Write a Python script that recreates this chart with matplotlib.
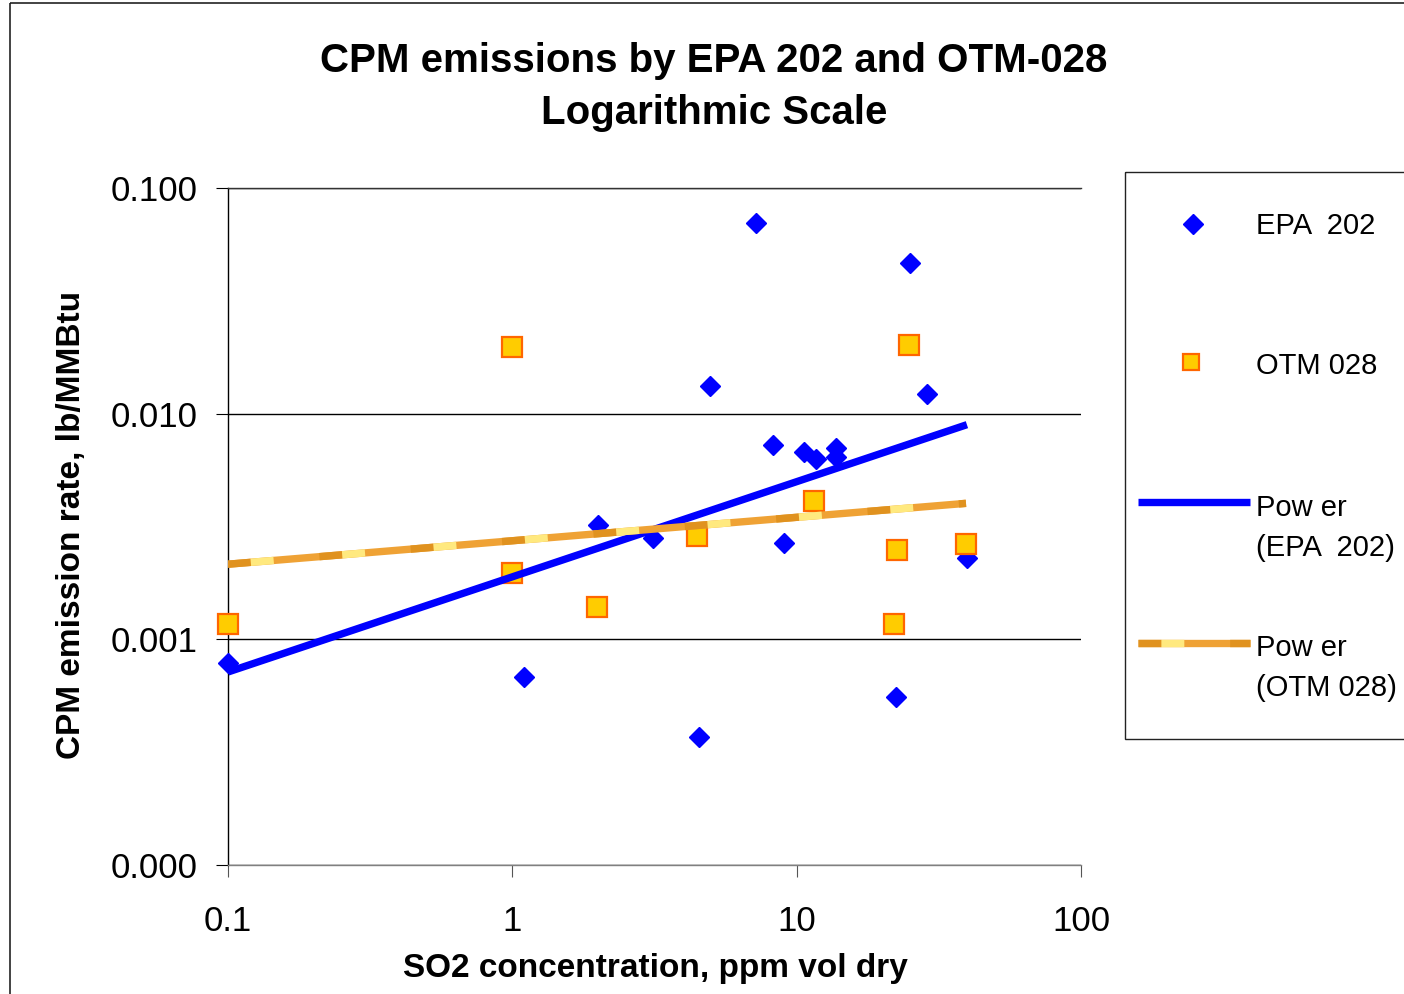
import numpy as np
import matplotlib
matplotlib.use('Agg')
import matplotlib.pyplot as plt
from matplotlib.ticker import NullLocator
from matplotlib.patches import Rectangle

plt.rcParams['font.family'] = ['Liberation Sans', 'DejaVu Sans']
plt.rcParams['lines.scale_dashes'] = False

# ---------------- data ----------------
epa_x = [7.2, 25.1, 4.96, 28.8, 8.26, 10.6, 11.7, 13.8, 13.8, 2.0, 3.13,
         9.03, 39.7, 0.1, 1.10, 4.54, 22.4]
epa_y = [0.070, 0.0466, 0.0133, 0.0122, 0.00727, 0.00676, 0.0063, 0.00705,
         0.00643, 0.00321, 0.00281, 0.00267, 0.0023, 0.000786, 0.00068,
         0.00037, 0.000556]
otm_x = [0.1, 1.0, 1.0, 1.99, 4.47, 11.5, 22.0, 22.5, 24.8, 39.4]
otm_y = [0.00117, 0.0198, 0.00197, 0.00139, 0.00287, 0.0041, 0.00117,
         0.00249, 0.0201, 0.00265]

x_ticks = [0.1, 1, 10, 100]
x_tick_labels = ['0.1', '1', '10', '100']
y_ticks = [0.0001, 0.001, 0.01, 0.1]
y_tick_labels = ['0.000', '0.001', '0.010', '0.100']

title_lines = ['CPM emissions by EPA 202 and OTM-028', 'Logarithmic Scale']
x_label = 'SO2 concentration, ppm vol dry'
y_label = 'CPM emission rate, lb/MMBtu'
legend_labels = ['EPA  202', 'OTM 028', ['Pow er', '(EPA  202)'],
                 ['Pow er', '(OTM 028)']]

# ---------------- styles ----------------
BLUE = '#0000FF'
SQ_FACE = '#FFCC00'
SQ_EDGE = '#FF6600'
DARK = '#E0921F'
ORANGE = '#EFA235'
YELLOW = '#FFE97F'
SEG = 16.5  # dash segment length (pt)

W, H = 1404, 994
fig = plt.figure(figsize=(W / 100, H / 100), dpi=100)


def fx(px):
    return px / W


def fy(py):
    return 1 - py / H


def power_fit(x, y):
    b, la = np.polyfit(np.log10(x), np.log10(y), 1)
    xs = np.geomspace(min(x), max(x), 300)
    return xs, 10 ** la * xs ** b


def otm_line(axis, xs, ys, lw, **kw):
    axis.plot(xs, ys, color=ORANGE, lw=lw, solid_capstyle='butt', **kw)
    axis.plot(xs, ys, color=DARK, lw=lw, ls=(0, (SEG, 3 * SEG)),
              dash_capstyle='butt', **kw)
    axis.plot(xs, ys, color=YELLOW, lw=lw, ls=(3 * SEG, (SEG, 3 * SEG)),
              dash_capstyle='butt', **kw)


# overlay (pixel coordinates) for chart frame and legend
ov = fig.add_axes([0, 0, 1, 1], zorder=0)
ov.set_xlim(0, W)
ov.set_ylim(H, 0)
ov.axis('off')
ov.add_patch(Rectangle((10, 3), W + 20, H + 20, fill=False,
                       edgecolor='#222222', lw=1.2))

# main axes
ax = fig.add_axes([fx(228), fy(865), (1081 - 228) / W, (865 - 188) / H],
                  zorder=1)
ax.set_xscale('log')
ax.set_yscale('log')
ax.set_xlim(0.1, 100)
ax.set_ylim(0.0001, 0.1)

ax.plot(epa_x, epa_y, ls='none', marker='D', ms=10.5, color=BLUE,
        mec=BLUE, zorder=3, clip_on=False)
ax.plot(otm_x, otm_y, ls='none', marker='s', ms=14, mfc=SQ_FACE,
        mec=SQ_EDGE, mew=1.6, zorder=3, clip_on=False)

xe, ye = power_fit(epa_x, epa_y)
ax.plot(xe, ye, color=BLUE, lw=5.3, solid_capstyle='butt', zorder=4)
xo, yo = power_fit(otm_x, otm_y)
otm_line(ax, xo, yo, 5.3, zorder=4)

ax.set_xticks(x_ticks)
ax.set_xticklabels(x_tick_labels)
ax.set_yticks(y_ticks)
ax.set_yticklabels(y_tick_labels)
ax.xaxis.set_minor_locator(NullLocator())
ax.yaxis.set_minor_locator(NullLocator())
ax.tick_params(axis='y', direction='out', length=8.6, width=0.8,
               color='black', labelsize=25, pad=13)
ax.tick_params(axis='x', direction='out', length=8.6, width=0.8,
               color='#555555', labelsize=25, pad=20)
ax.yaxis.grid(True, color='black', lw=1.0)
ax.set_axisbelow(True)
ax.spines['right'].set_visible(False)
ax.spines['top'].set_color('#333333')
ax.spines['left'].set_color('black')
ax.spines['bottom'].set_color('#808080')
for s in ax.spines.values():
    s.set_linewidth(1.0)

# titles and labels
fig.text(fx(714), fy(61), title_lines[0], ha='center', va='center',
         fontsize=29, fontweight='bold')
fig.text(fx(714), fy(113), title_lines[1], ha='center', va='center',
         fontsize=29, fontweight='bold')
fig.text(fx(655), fy(969), x_label, ha='center', va='center',
         fontsize=24, fontweight='bold')
fig.text(fx(72), fy(525), y_label, ha='center', va='center',
         fontsize=24, fontweight='bold', rotation=90)

# legend
ov.add_patch(Rectangle((1125, 172), 400, 739 - 172, fill=False,
                       edgecolor='#222222', lw=1.0))
ov.plot([1193], [224], marker='D', ms=10, color=BLUE, ls='none')
ov.plot([1191], [362], marker='s', ms=11, mfc=SQ_FACE, mec=SQ_EDGE,
        mew=1.6, ls='none')
ov.plot([1138, 1250], [502, 502], color=BLUE, lw=5.3, solid_capstyle='butt')
otm_line(ov, [1138, 1250], [643, 643], 5.3)
tx = 1256
ov.text(tx, 226, legend_labels[0], va='center', ha='left', fontsize=21)
ov.text(tx, 366, legend_labels[1], va='center', ha='left', fontsize=21)
ov.text(tx, 508, legend_labels[2][0], va='center', ha='left', fontsize=21)
ov.text(tx, 548, legend_labels[2][1], va='center', ha='left', fontsize=21)
ov.text(tx, 648, legend_labels[3][0], va='center', ha='left', fontsize=21)
ov.text(tx, 688, legend_labels[3][1], va='center', ha='left', fontsize=21)

fig.savefig('out.png', dpi=100)
